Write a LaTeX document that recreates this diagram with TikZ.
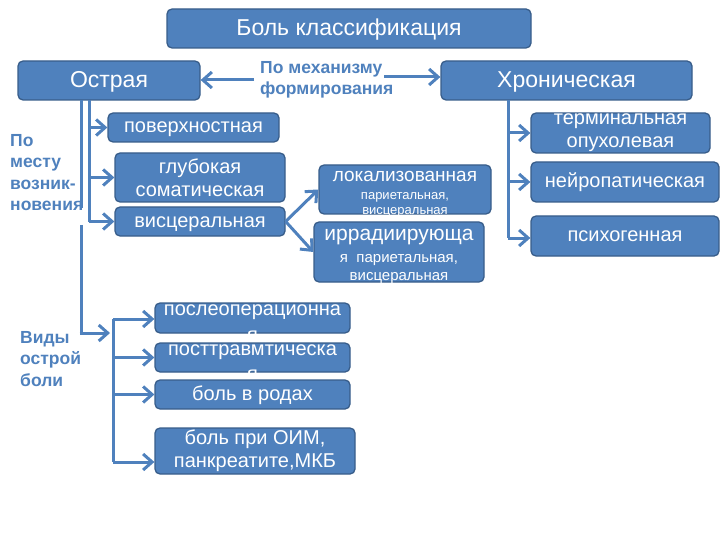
\documentclass[tikz,border=0pt]{standalone}
\usepackage{fontspec}
\setmainfont{Liberation Sans}
\usetikzlibrary{arrows.meta}
\definecolor{boxfill}{HTML}{4F81BD}
\definecolor{boxline}{HTML}{385D8A}
\definecolor{linec}{HTML}{4F81BD}
\definecolor{labelc}{HTML}{4F81BD}
\tikzset{
  box/.style={draw=boxline, fill=boxfill, rounded corners=5pt, line width=1.3pt,
    text=white, font=\fontsize{20}{23}\selectfont, align=center, inner sep=0pt},
  onebox/.style={box, text height=14pt, text depth=3pt},
  bigbox/.style={box, font=\fontsize{23}{26}\selectfont, text height=17pt, text depth=3pt},
  btext/.style={text=white, inner sep=0pt, align=center},
  wire/.style={draw=linec, line width=3pt},
  conn/.style={draw=linec, line width=3pt, -{Straight Barb[length=9pt,width=16pt,line width=3pt]}},
  lbl/.style={text=labelc, font=\bfseries\fontsize{17.5}{21.5}\selectfont, align=left, inner sep=0pt}
}
\begin{document}
\begin{tikzpicture}[x=1pt,y=-1pt]
\useasboundingbox (0,0) rectangle (720,540);
% boxes
\node[bigbox, minimum width=364, minimum height=39] (title) at (349,28.5) {Боль классификация};
\node[bigbox, minimum width=182, minimum height=39] (ostr) at (109,80.5) {Острая};
\node[bigbox, minimum width=251, minimum height=39] (chron) at (566.5,80.5) {Хроническая};

\node[onebox, minimum width=171, minimum height=29] (pov) at (193.5,127.5) {поверхностная};
\node[box, minimum width=170, minimum height=49] (glub) at (200,177.5) {глубокая\\соматическая};
\node[onebox, minimum width=170, minimum height=29] (visc) at (200,221.5) {висцеральная};

\node[box, minimum width=172, minimum height=49] (lok) at (405,189.5) {};
\node[btext, font=\fontsize{19}{21}\selectfont] (lokt1) at (405,176) {локализованная};
\node[btext, font=\fontsize{13}{15}\selectfont] (lokt2) at (405,197) {париетальная,};
\node[btext, font=\fontsize{13}{15}\selectfont] (lokt3) at (405,212) {висцеральная};

\node[box, minimum width=170, minimum height=60] (irr) at (399,252) {};
\node[btext, font=\fontsize{21}{23}\selectfont] (irrt1) at (399,237) {иррадиирующа};
\node[btext, font=\fontsize{15}{17}\selectfont] (irrt2) at (399,260) {я\ \ париетальная,};
\node[btext, font=\fontsize{15}{17}\selectfont] (irrt3) at (399,278) {висцеральная};

\node[box, minimum width=179, minimum height=40] (term) at (620.5,133) {терминальная\\опухолевая};
\node[onebox, minimum width=188, minimum height=40] (neur) at (625,182) {нейропатическая};
\node[onebox, minimum width=188, minimum height=40] (psych) at (625,236) {психогенная};

\node[box, minimum width=195, minimum height=30] (postop) at (252.5,318) {};
\begin{scope}
\clip[rounded corners=5pt] (postop.north west) rectangle (postop.south east);
\node[btext, font=\fontsize{20}{22}\selectfont] (postopt1) at (252.5,312) {послеоперационна};
\node[btext, font=\fontsize{20}{22}\selectfont] (postopt2) at (252.5,336) {я};
\end{scope}
\node[box, minimum width=195, minimum height=29] (trav) at (252.5,357.5) {};
\begin{scope}
\clip[rounded corners=5pt] (trav.north west) rectangle (trav.south east);
\node[btext, font=\fontsize{20}{22}\selectfont] (travt1) at (252.5,352) {посттравмтическа};
\node[btext, font=\fontsize{20}{22}\selectfont] (travt2) at (252.5,375) {я};
\end{scope}
\node[onebox, minimum width=195, minimum height=29] (rod) at (252.5,394.5) {боль в родах};
\node[box, minimum width=200, minimum height=46] (oim) at (255,451) {боль при ОИМ,\\панкреатите,МКБ};

% labels
\node[lbl, anchor=west] (mech) at (260,80) {По механизму\\формирования};
\node[lbl, anchor=north west] (mesto) at (10,134) {По\\месту\\возник-\\новения};
\node[lbl, anchor=north west] (vidy) at (20,331) {Виды\\острой\\боли};

% mechanism arrows
\draw[conn] ([xshift=-6pt]mech.west) -- (mech.west -| ostr.east);
\coordinate (mr) at (384,77);
\draw[conn] (mr) -- (mr -| chron.west);

% acute: by place
\coordinate (a1) at (89,100);
\coordinate (a2) at (89,222);
\draw[wire] (a1) -- (a2);
\draw[conn] (a1 |- pov.west) -- (pov.west);
\draw[conn] (a1 |- glub.west) -- (glub.west);
\draw[conn] (a1 |- visc.west) -- (visc.west);
\draw[conn] (visc.east) -- (lok.west);
\draw[conn] (visc.east) -- (irr.west);

% acute: types
\coordinate (b1) at (81,100);
\coordinate (b1a) at (81,208);
\coordinate (b1b) at (81,225);
\coordinate (b2) at (81,333);
\coordinate (c1) at (113,319);
\coordinate (c2) at (113,462);
\draw[wire] (b1) -- (b1a);
\draw[wire] (b1b) -- (b2);
\draw[conn] ([xshift=-1.5pt]b2) -- ([xshift=-3pt]c1 |- b2);
\draw[wire] (c1) -- (c2);
\draw[conn] (c1) -- (c1 -| postop.west);
\draw[conn] (c1 |- trav.west) -- (trav.west);
\draw[conn] (c1 |- rod.west) -- (rod.west);
\draw[conn] (c2) -- (c2 -| oim.west);

% chronic
\coordinate (d1) at (508,100);
\coordinate (d2) at (508,238);
\draw[wire] (d1) -- (d2);
\draw[conn] (d1 |- term.west) -- (term.west);
\draw[conn] (d1 |- neur.west) -- (neur.west);
\draw[conn] (d2) -- (d2 -| psych.west);
\end{tikzpicture}
\end{document}
